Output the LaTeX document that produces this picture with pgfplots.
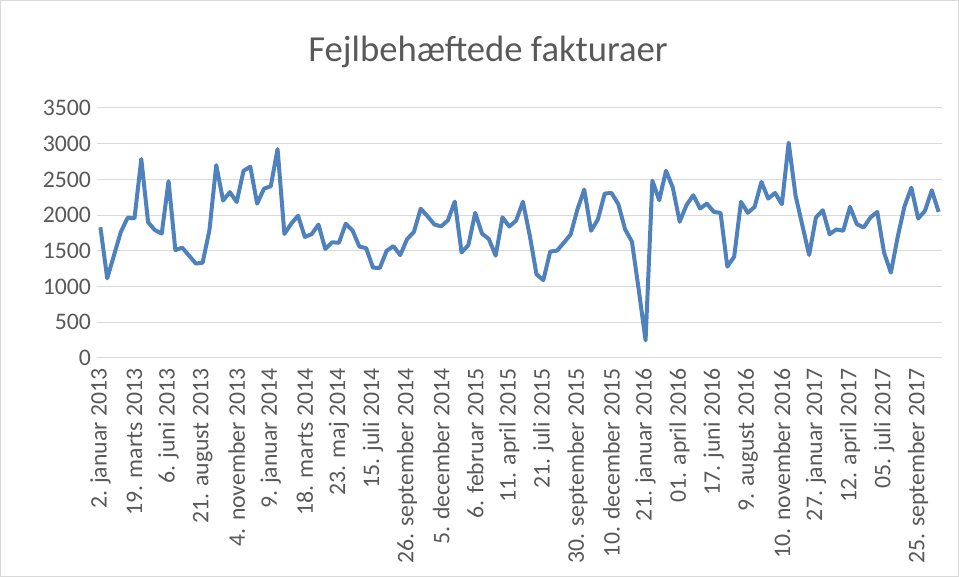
\documentclass[border=0pt]{standalone}
\usepackage{fontspec}
\setmainfont{Carlito}
\usepackage{pgfplots}
\pgfplotsset{compat=1.18}
\definecolor{txt}{HTML}{595959}
\definecolor{grd}{HTML}{D9D9D9}
\definecolor{ln}{HTML}{4F81BD}
\begin{document}
\begin{tikzpicture}
\draw[grd, line width=0.75pt] (0.375pt,0.375pt) rectangle (718.875pt,432.375pt);
\node[txt, font=\fontsize{27.5}{33}\selectfont] at (366pt,393.75pt) {Fejlbehæftede fakturaer};
\begin{axis}[
  at={(72.75pt,164.25pt)}, anchor=south west,
  scale only axis, width=633.75pt, height=187.5pt,
  xmin=-0.5, xmax=123.5, ymin=0, ymax=3500,
  ytick={0,500,...,3500},
  xtick={0,5,...,120},
  xticklabels={2. januar 2013,19. marts 2013,6. juni 2013,21. august 2013,4. november 2013,9. januar 2014,18. marts 2014,23. maj 2014,15. juli 2014,26. september 2014,5. december 2014,6. februar 2015,11. april 2015,21. juli 2015,30. september 2015,10. december 2015,21. januar 2016,01. april 2016,17. juni 2016,9. august 2016,10. november 2016,27. januar 2017,12. april 2017,05. juli 2017,25. september 2017},
  ymajorgrids, grid style={grd, line width=0.75pt},
  axis line style={draw=none},
  major tick length=0pt,
  tick label style={txt, font=\fontsize{17.8}{20}\selectfont},
  xticklabel style={rotate=90, anchor=east},
  xticklabel shift=4.5pt,
  yticklabel shift=1pt,
  /pgf/number format/assume math mode=true,
  /pgf/number format/1000 sep={},
]
\addplot[ln, line width=3pt, line join=round, mark=none] table[x=i, y=v] {
i v
0 1830
1 1115
2 1440
3 1765
4 1965
5 1955
6 2785
7 1900
8 1790
9 1742
10 2475
11 1510
12 1545
13 1435
14 1322
15 1334
16 1790
17 2700
18 2205
19 2322
20 2184
21 2620
22 2678
23 2160
24 2370
25 2405
26 2925
27 1736
28 1880
29 1992
30 1695
31 1734
32 1868
33 1525
34 1620
35 1613
36 1880
37 1785
38 1560
39 1538
40 1265
41 1260
42 1500
43 1566
44 1440
45 1664
46 1764
47 2090
48 1985
49 1870
50 1842
51 1928
52 2190
53 1478
54 1582
55 2032
56 1741
57 1666
58 1432
59 1969
60 1841
61 1922
62 2188
63 1718
64 1170
65 1090
66 1490
67 1503
68 1613
69 1729
70 2080
71 2358
72 1781
73 1939
74 2302
75 2311
76 2153
77 1800
78 1628
79 953
80 246
81 2483
82 2209
83 2622
84 2385
85 1907
86 2139
87 2279
88 2093
89 2162
90 2046
91 2032
92 1279
93 1418
94 2186
95 2032
96 2116
97 2465
98 2232
99 2311
100 2153
101 3015
102 2279
103 1860
104 1442
105 1967
106 2069
107 1734
108 1800
109 1781
110 2116
111 1874
112 1827
113 1967
114 2046
115 1474
116 1195
117 1697
118 2125
119 2385
120 1953
121 2060
122 2348
123 2046
};
\end{axis}
\end{tikzpicture}
\end{document}
